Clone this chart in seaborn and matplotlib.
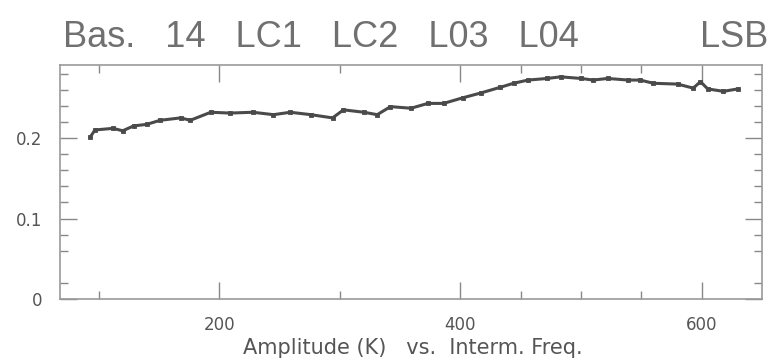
import matplotlib
matplotlib.use("Agg")
import matplotlib.pyplot as plt
import seaborn as sns
import pandas as pd
from matplotlib.ticker import FixedLocator

sns.set_style("white")
plt.rcParams['font.family'] = ['DejaVu Sans']

freq = [93, 97, 112, 120, 129, 140, 151, 168, 176, 193, 209, 228, 245, 259, 276,
        294, 303, 320, 331, 342, 359, 373, 386, 402, 417, 433, 444, 456, 472, 483,
        500, 510, 522, 539, 549, 560, 580, 593, 599, 605, 618, 630]
amp = [0.201, 0.210, 0.212, 0.209, 0.215, 0.217, 0.222, 0.225, 0.222, 0.232, 0.231,
       0.232, 0.229, 0.232, 0.229, 0.225, 0.235, 0.232, 0.229, 0.239, 0.237, 0.243,
       0.243, 0.250, 0.256, 0.263, 0.268, 0.272, 0.274, 0.276, 0.274, 0.272, 0.274,
       0.272, 0.272, 0.268, 0.267, 0.262, 0.270, 0.261, 0.258, 0.261]
x_major = [200, 400, 600]
x_minor = [100, 300, 450, 500, 550]
y_major = [0, 0.1, 0.2]
y_labels = ["0", "0.1", "0.2"]
title_left = "Bas.   14   LC1   LC2   L03   L04"
title_right = "LSB"
xlabel = "Amplitude (K)   vs.  Interm. Freq."

df = pd.DataFrame({"freq": freq, "amp": amp})

gray = "#555555"
fig = plt.figure(figsize=(7.74, 3.58), dpi=100)
ax = fig.add_axes([0.0775, 0.1648, 0.907, 0.6536])
sns.lineplot(data=df, x="freq", y="amp", ax=ax, color="#4a4a4a", linewidth=2.2,
             marker="s", markersize=3, markeredgewidth=0.6, markeredgecolor="#4a4a4a")
ax.set_xlim(68, 650)
ax.set_ylim(0, 0.2907)
ax.xaxis.set_major_locator(FixedLocator(x_major))
ax.xaxis.set_minor_locator(FixedLocator(x_minor))
ax.yaxis.set_major_locator(FixedLocator(y_major))
ax.yaxis.set_minor_locator(FixedLocator([0.02, 0.06, 0.08, 0.12, 0.14, 0.16, 0.18,
                                         0.22, 0.24, 0.26, 0.28]))
ax.set_yticklabels(y_labels)
ax.tick_params(which="both", direction="in", top=True, right=True, bottom=True,
               left=True, color="#888888", labelcolor=gray, labelsize=12)
ax.tick_params(which="major", length=12, width=1)
ax.tick_params(which="minor", length=6, width=1)
ax.tick_params(axis="x", pad=12)
ax.tick_params(axis="y", pad=13)
for s in ax.spines.values():
    s.set_color("#999999")
    s.set_linewidth(1.2)
ax.set_xlabel("")
ax.set_ylabel("")
fig.text(0.081, 0.869, title_left, fontsize=26, color="#707070", ha="left",
         va="baseline", family=["Liberation Sans", "DejaVu Sans"])
fig.text(0.993, 0.869, title_right, fontsize=26, color="#707070", ha="right",
         va="baseline", family=["Liberation Sans", "DejaVu Sans"])
fig.text(0.533, 0.01, xlabel, fontsize=15, color=gray, ha="center", va="baseline")
fig.savefig("out.png", dpi=100, facecolor="white")
